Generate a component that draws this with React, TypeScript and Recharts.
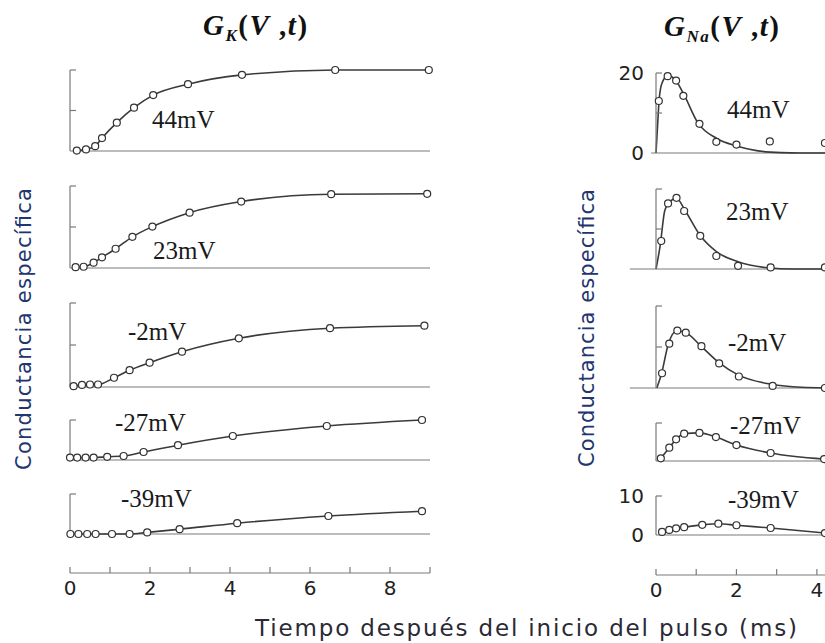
import React from "react";
import { ComposedChart, Line, XAxis, YAxis, ReferenceLine } from "recharts";

// G_K panels: measured times (ms) and conductance values
const kTimes44 = [0.17, 0.4, 0.63, 0.8, 1.17, 1.6, 2.08, 2.95, 4.3, 6.63, 8.97];
const kVals44 = [0.1, 0.4, 1.2, 3.2, 7.0, 10.7, 13.8, 16.5, 18.8, 20, 20];
const kTimes23 = [0.14, 0.34, 0.59, 0.8, 1.14, 1.56, 2.06, 2.99, 4.28, 6.53, 8.93];
const kVals23 = [0.2, 0.3, 1.3, 2.6, 4.7, 7.6, 10.1, 13.5, 16.2, 18.0, 18.1];
const kTimesM2 = [0.09, 0.3, 0.5, 0.7, 1.1, 1.49, 1.99, 2.8, 4.22, 6.5, 8.86];
const kValsM2 = [0.2, 0.5, 0.6, 0.6, 2.2, 4.0, 5.8, 8.4, 11.6, 14.0, 14.6];
const kTimesM27 = [0.0, 0.18, 0.39, 0.59, 0.93, 1.34, 1.84, 2.7, 4.07, 6.42, 8.8];
const kValsM27 = [0.6, 0.6, 0.6, 0.6, 0.8, 1.0, 2.0, 3.7, 6.0, 8.5, 10.0];
const kTimesM39 = [0.01, 0.21, 0.43, 0.64, 1.05, 1.49, 1.93, 2.74, 4.18, 6.46, 8.8];
const kValsM39 = [0, 0, 0, 0, 0, 0, 0.4, 1.2, 2.7, 4.5, 5.7];

// G_Na panels: measured points
const naT44 = [0.07, 0.29, 0.5, 0.68, 1.08, 1.5, 2.0, 2.83, 4.2];
const naV44 = [13, 19.2, 18.1, 14.3, 7.3, 2.8, 2.1, 2.9, 2.5];
const naT23 = [0.13, 0.3, 0.51, 0.7, 1.1, 1.5, 2.04, 2.85, 4.2];
const naV23 = [7.0, 16.4, 17.8, 14.5, 8.3, 3.25, 0.8, 0.4, 0.4];
const naTM2 = [0.15, 0.33, 0.53, 0.74, 1.13, 1.57, 2.06, 2.9, 4.2];
const naVM2 = [3.6, 10.8, 14.0, 13.5, 10.2, 6.0, 2.8, 0.5, 0];
const naTM27 = [0.12, 0.33, 0.5, 0.7, 1.08, 1.49, 2.0, 2.85, 4.18];
const naVM27 = [0.7, 3.5, 5.7, 7.2, 7.4, 6.3, 4.2, 2.1, 0.5];
const naTM39 = [0.15, 0.33, 0.5, 0.7, 1.15, 1.55, 2.0, 2.85, 4.2];
const naVM39 = [0.8, 1.3, 1.7, 2.0, 2.6, 2.9, 2.5, 1.8, 0.5];

// G_Na fitted curves
const naFitT44 = [0, 0.04, 0.08, 0.15, 0.3, 0.5, 0.68, 1.05, 1.5, 2.0, 2.5, 3.1, 3.6, 4.6];
const naFitV44 = [0, 7, 13.5, 17.5, 19.4, 18, 14.9, 7.4, 3.7, 1.75, 0.6, 0.1, 0, 0];
const naFitT23 = [0, 0.1, 0.22, 0.35, 0.51, 0.72, 1.09, 1.51, 2.04, 2.79, 3.4, 4.6];
const naFitV23 = [0, 5.6, 14.7, 16.9, 17.7, 14.7, 8.5, 4.3, 1.8, 0.3, 0, 0];
const naFitTM2 = [0.02, 0.14, 0.3, 0.51, 0.72, 1.13, 1.59, 2.04, 2.87, 3.62, 4.6];
const naFitVM2 = [0, 3.6, 10.5, 13.9, 13.6, 10.1, 6.0, 3.2, 0.9, 0.2, 0];

const voltages = ["44mV", "23mV", "-2mV", "-27mV", "-39mV"];
const timeTicks = [0, 1, 2, 3, 4, 5, 6, 7, 8, 9];
const timeLabels = [0, 2, 4, 6, 8];

const zip = (ts: number[], vs: number[]) => ts.map((t, i) => ({ t, v: vs[i] }));

const AXIS = "#7a7a7a";
const INK = "#3a3a3a";
const SERIF = "'Liberation Serif', 'Times New Roman', serif";
const SANS = "'DejaVu Sans', sans-serif";

type PanelProps = {
  axisX: number;
  plotW: number;
  top: number;
  base: number;
  yMax: number;
  pts: { t: number; v: number }[];
  fit?: { t: number; v: number }[];
  from: number;
  labels?: number[];
};

function Panel({ axisX, plotW, top, base, yMax, pts, fit, from, labels = [] }: PanelProps) {
  const yw = 50, mt = 16, mb = 16, mr = 8;
  const h = base - top;
  const ticks = yMax === 20 ? [0, 10, 20] : [0, 10];
  const renderTick = (p: any) => {
    const { x, y, payload } = p;
    return (
      <g>
        {payload.value > 0 && <line x1={x} y1={y} x2={x + 6} y2={y} stroke={AXIS} strokeWidth={1.2} />}
        {labels.includes(payload.value) && (
          <text x={x - 12} y={y} dy={7} textAnchor="end" fontSize={20} fontFamily={SANS} fill="#222">
            {payload.value}
          </text>
        )}
      </g>
    );
  };
  return (
    <div style={{ position: "absolute", left: axisX - yw, top: top - mt }}>
      <ComposedChart
        width={yw + plotW + mr}
        height={mt + h + mb}
        margin={{ top: mt, right: mr, bottom: mb, left: 0 }}
      >
        <XAxis type="number" dataKey="t" domain={[0, 9]} hide />
        <YAxis
          type="number"
          domain={[0, yMax]}
          ticks={ticks}
          interval={0}
          width={yw}
          axisLine={{ stroke: AXIS, strokeWidth: 1.2 }}
          tickLine={false}
          tickSize={0}
          tickMargin={0}
          tick={renderTick}
        />
        <ReferenceLine
          segment={[{ x: from, y: 0 }, { x: 9, y: 0 }]}
          stroke={AXIS}
          strokeWidth={1.2}
          ifOverflow="visible"
        />
        {fit && (
          <Line
            data={fit}
            dataKey="v"
            type="monotone"
            stroke={INK}
            strokeWidth={1.6}
            dot={false}
            isAnimationActive={false}
          />
        )}
        <Line
          data={pts}
          dataKey="v"
          type="monotone"
          stroke={fit ? "none" : INK}
          strokeWidth={1.6}
          dot={{ r: 3.5, fill: "#fff", stroke: "#333", strokeWidth: 1.2 }}
          isAnimationActive={false}
        />
      </ComposedChart>
    </div>
  );
}

function TimeAxis({ axisX, plotW, axisY }: { axisX: number; plotW: number; axisY: number }) {
  const ml = 20, mr = 8;
  const renderTick = (p: any) => {
    const { x, y, payload } = p;
    return (
      <g>
        <line x1={x} y1={y} x2={x} y2={y - 6} stroke={AXIS} strokeWidth={1.2} />
        {timeLabels.includes(payload.value) && (
          <text x={x} y={y + 22} textAnchor="middle" fontSize={20} fontFamily={SANS} fill="#222">
            {payload.value}
          </text>
        )}
      </g>
    );
  };
  return (
    <div style={{ position: "absolute", left: axisX - ml, top: axisY - 20 }}>
      <ComposedChart
        width={ml + plotW + mr}
        height={56}
        margin={{ top: 10, right: mr, bottom: 0, left: ml }}
        data={timeTicks.map((t) => ({ t }))}
      >
        <XAxis
          type="number"
          dataKey="t"
          domain={[0, 9]}
          ticks={timeTicks}
          interval={0}
          height={36}
          axisLine={{ stroke: AXIS, strokeWidth: 1.2 }}
          tickLine={false}
          tickSize={0}
          tickMargin={0}
          tick={renderTick}
        />
        <YAxis hide domain={[0, 1]} />
      </ComposedChart>
    </div>
  );
}

export default function App() {
  const left = { axisX: 70, plotW: 360 };
  const right = { axisX: 656, plotW: 362 };
  const leftLabelPos = [[152, 120], [153, 251], [128, 332], [115, 423], [121, 499]];
  const rightLabelPos = [[727, 110], [726, 212], [728, 343], [730, 426], [728, 500]];
  return (
    <div
      style={{
        position: "absolute",
        left: 0,
        top: 0,
        width: 825,
        height: 643,
        overflow: "hidden",
        background: "#fff",
      }}
    >
      {/* G_K column */}
      <Panel {...left} top={70} base={151} yMax={20} pts={zip(kTimes44, kVals44)} from={0} />
      <Panel {...left} top={186} base={268} yMax={20} pts={zip(kTimes23, kVals23)} from={0} />
      <Panel {...left} top={303} base={387} yMax={20} pts={zip(kTimesM2, kValsM2)} from={0} />
      <Panel {...left} top={420} base={460} yMax={10} pts={zip(kTimesM27, kValsM27)} from={0} />
      <Panel {...left} top={494} base={534} yMax={10} pts={zip(kTimesM39, kValsM39)} from={0} />
      <TimeAxis {...left} axisY={573} />

      {/* G_Na column */}
      <Panel {...right} top={73} base={153} yMax={20} pts={zip(naT44, naV44)} fit={zip(naFitT44, naFitV44)} from={-0.12} labels={[0, 20]} />
      <Panel {...right} top={189} base={269} yMax={20} pts={zip(naT23, naV23)} fit={zip(naFitT23, naFitV23)} from={-0.65} />
      <Panel {...right} top={306} base={388} yMax={20} pts={zip(naTM2, naVM2)} fit={zip(naFitTM2, naFitVM2)} from={-0.65} />
      <Panel {...right} top={423} base={461} yMax={10} pts={zip(naTM27, naVM27)} from={0} />
      <Panel {...right} top={496} base={535} yMax={10} pts={zip(naTM39, naVM39)} from={0} labels={[0, 10]} />
      <TimeAxis {...right} axisY={575} />

      <svg width={825} height={643} style={{ position: "absolute", left: 0, top: 0, pointerEvents: "none" }}>
        <text x={203} y={35} fontSize={29} fontWeight="bold" fontFamily={SERIF} fill="#111" letterSpacing={1.5}>
          <tspan fontStyle="italic">G</tspan>
          <tspan fontStyle="italic" fontSize={17} dy={6}>K</tspan>
          <tspan dy={-6}>(</tspan>
          <tspan fontStyle="italic">V</tspan>
          <tspan> ,</tspan>
          <tspan fontStyle="italic">t</tspan>
          <tspan>)</tspan>
        </text>
        <text x={664} y={36} fontSize={29} fontWeight="bold" fontFamily={SERIF} fill="#111" letterSpacing={1.5}>
          <tspan fontStyle="italic">G</tspan>
          <tspan fontStyle="italic" fontSize={17} dy={6}>Na</tspan>
          <tspan dy={-6}>(</tspan>
          <tspan fontStyle="italic">V</tspan>
          <tspan> ,</tspan>
          <tspan fontStyle="italic">t</tspan>
          <tspan>)</tspan>
        </text>

        {voltages.map((v, i) => (
          <text key={"l" + v} x={leftLabelPos[i][0]} y={leftLabelPos[i][1] + 8} fontSize={25} fontFamily={SERIF} fill="#1a1a1a">
            {v}
          </text>
        ))}
        {voltages.map((v, i) => (
          <text key={"r" + v} x={rightLabelPos[i][0]} y={rightLabelPos[i][1] + 8} fontSize={25} fontFamily={SERIF} fill="#1a1a1a">
            {v}
          </text>
        ))}

        <text
          transform="translate(31, 329) rotate(-90)"
          textAnchor="middle"
          fontSize={21}
          fontFamily={SANS}
          fill="#22356f"
          textLength={282}
        >
          Conductancia específica
        </text>
        <text
          transform="translate(594, 328) rotate(-90)"
          textAnchor="middle"
          fontSize={21}
          fontFamily={SANS}
          fill="#22356f"
          textLength={278}
        >
          Conductancia específica
        </text>
        <text x={526} y={636} textAnchor="middle" fontSize={23} fontFamily={SANS} fill="#2a2a35" textLength={542}>
          Tiempo después del inicio del pulso (ms)
        </text>
      </svg>
    </div>
  );
}
